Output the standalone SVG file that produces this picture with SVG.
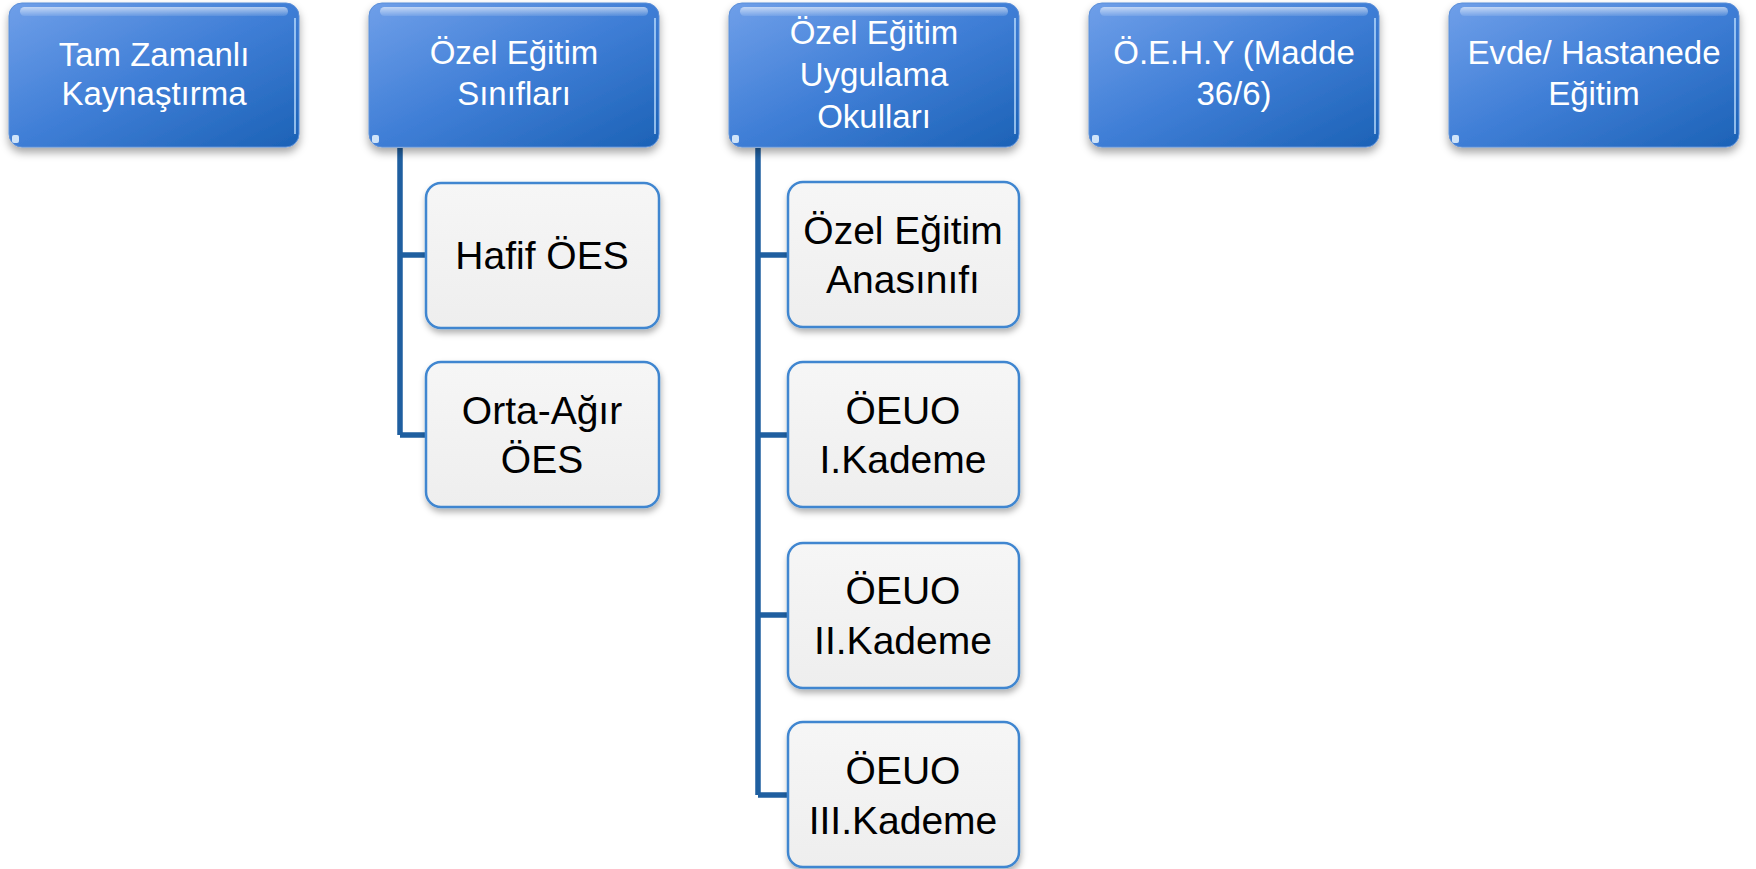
<svg xmlns="http://www.w3.org/2000/svg" width="1756" height="869" viewBox="0 0 1756 869">
<defs>
<linearGradient id="topFill" x1="0" y1="0" x2="1" y2="1">
<stop offset="0" stop-color="#6f9fe9"/>
<stop offset="0.5" stop-color="#3f7ed6"/>
<stop offset="1" stop-color="#1c62b6"/>
</linearGradient>
<linearGradient id="gloss" x1="0" y1="0" x2="0" y2="1">
<stop offset="0" stop-color="#ffffff" stop-opacity="0.6"/>
<stop offset="1" stop-color="#ffffff" stop-opacity="0.1"/>
</linearGradient>
<linearGradient id="childFill" x1="0" y1="0" x2="0" y2="1">
<stop offset="0" stop-color="#f6f6f6"/>
<stop offset="1" stop-color="#eeeeee"/>
</linearGradient>
<filter id="shadow" x="-10%" y="-10%" width="120%" height="130%">
<feDropShadow dx="0" dy="5" stdDeviation="4" flood-color="#000000" flood-opacity="0.35"/>
</filter>
<filter id="shadow2" x="-10%" y="-10%" width="120%" height="130%">
<feDropShadow dx="1" dy="4" stdDeviation="3" flood-color="#000000" flood-opacity="0.3"/>
</filter>
</defs>
<style>
.top{fill:url(#topFill);stroke:#5b8fd8;stroke-width:1;filter:url(#shadow)}
.gl{fill:url(#gloss)}
.edge{fill:none;stroke:#bfe0ff;stroke-width:2;stroke-opacity:0.7}
.spot{fill:#e8f4ff;opacity:0.85}
.child{fill:url(#childFill);stroke:#3f86d0;stroke-width:2.5;filter:url(#shadow2)}
.tw{font-family:"Liberation Sans",Arial,sans-serif;font-size:33px;fill:#ffffff;text-anchor:middle}
.tb{font-family:"Liberation Sans",Arial,sans-serif;font-size:39px;fill:#000000;text-anchor:middle}
.conn{fill:none;stroke:#1f5fa0;stroke-width:5.5}
</style>

<g id="connectors">
<path class="conn" d="M400,148 V435 M400,255 H426 M400,435 H426"/>
<path class="conn" d="M758,148 V795 M758,255 H788 M758,435 H788 M758,615 H788 M758,795 H788"/>
</g>

<g id="n1">
<rect class="top" x="9" y="3" width="290" height="144" rx="13"/>
<rect class="gl" x="20" y="7" width="268" height="9" rx="4.5"/>
<path class="edge" d="M295,18 V134"/>
<rect class="spot" x="12" y="135" width="7" height="8" rx="2"/>
<text class="tw" x="154" y="66">Tam Zamanlı</text>
<text class="tw" x="154" y="105">Kaynaştırma</text>
</g>

<g id="n2">
<rect class="top" x="369" y="3" width="290" height="144" rx="13"/>
<rect class="gl" x="380" y="7" width="268" height="9" rx="4.5"/>
<path class="edge" d="M655,18 V134"/>
<rect class="spot" x="372" y="135" width="7" height="8" rx="2"/>
<text class="tw" x="514" y="64">Özel Eğitim</text>
<text class="tw" x="514" y="105">Sınıfları</text>
</g>

<g id="n3">
<rect class="top" x="729" y="3" width="290" height="144" rx="13"/>
<rect class="gl" x="740" y="7" width="268" height="9" rx="4.5"/>
<path class="edge" d="M1015,18 V134"/>
<rect class="spot" x="732" y="135" width="7" height="8" rx="2"/>
<text class="tw" x="874" y="44">Özel Eğitim</text>
<text class="tw" x="874" y="86">Uygulama</text>
<text class="tw" x="874" y="128">Okulları</text>
</g>

<g id="n4">
<rect class="top" x="1089" y="3" width="290" height="144" rx="13"/>
<rect class="gl" x="1100" y="7" width="268" height="9" rx="4.5"/>
<path class="edge" d="M1375,18 V134"/>
<rect class="spot" x="1092" y="135" width="7" height="8" rx="2"/>
<text class="tw" x="1234" y="64">Ö.E.H.Y (Madde</text>
<text class="tw" x="1234" y="105">36/6)</text>
</g>

<g id="n5">
<rect class="top" x="1449" y="3" width="290" height="144" rx="13"/>
<rect class="gl" x="1460" y="7" width="268" height="9" rx="4.5"/>
<path class="edge" d="M1735,18 V134"/>
<rect class="spot" x="1452" y="135" width="7" height="8" rx="2"/>
<text class="tw" x="1594" y="64">Evde/ Hastanede</text>
<text class="tw" x="1594" y="105">Eğitim</text>
</g>

<g id="c1">
<rect class="child" x="426" y="183" width="233" height="145" rx="15"/>
<text class="tb" x="542" y="269">Hafif ÖES</text>
</g>

<g id="c2">
<rect class="child" x="426" y="362" width="233" height="145" rx="15"/>
<text class="tb" x="542" y="424">Orta-Ağır</text>
<text class="tb" x="542" y="473">ÖES</text>
</g>

<g id="c3">
<rect class="child" x="788" y="182" width="231" height="145" rx="15"/>
<text class="tb" x="903" y="244">Özel Eğitim</text>
<text class="tb" x="903" y="293">Anasınıfı</text>
</g>

<g id="c4">
<rect class="child" x="788" y="362" width="231" height="145" rx="15"/>
<text class="tb" x="903" y="424">ÖEUO</text>
<text class="tb" x="903" y="473">I.Kademe</text>
</g>

<g id="c5">
<rect class="child" x="788" y="543" width="231" height="145" rx="15"/>
<text class="tb" x="903" y="604">ÖEUO</text>
<text class="tb" x="903" y="654">II.Kademe</text>
</g>

<g id="c6">
<rect class="child" x="788" y="722" width="231" height="145" rx="15"/>
<text class="tb" x="903" y="784">ÖEUO</text>
<text class="tb" x="903" y="834">III.Kademe</text>
</g>
</svg>
